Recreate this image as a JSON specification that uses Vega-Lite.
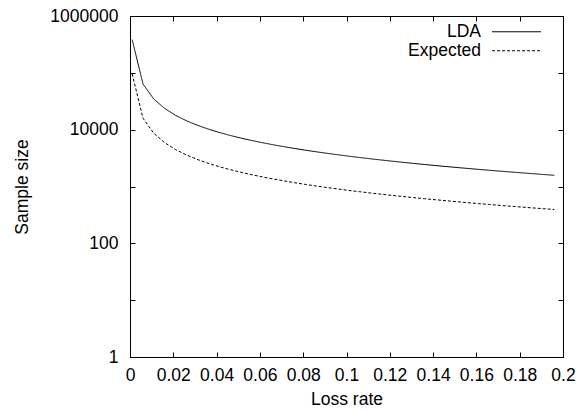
{
  "$schema": "https://vega.github.io/schema/vega-lite/v6.json",
  "width": 433,
  "height": 341,
  "autosize": {"type": "none"},
  "padding": {"left": 130, "top": 16, "right": 23, "bottom": 54},
  "background": "white",
  "config": {
    "font": "Liberation Sans",
    "view": {"stroke": "black", "strokeWidth": 1},
    "axis": {"grid": false, "domainColor": "black", "tickColor": "black", "labelColor": "black", "titleColor": "black", "labelFontSize": 17.5, "titleFontSize": 17.5, "titleFontWeight": "normal", "labelFlush": false, "labelOverlap": false}
  },
  "data": {"values": [
    {"p": 0.001, "series": "LDA", "n": 383616}, {"p": 0.001, "series": "Expected", "n": 95904},
    {"p": 0.006, "series": "LDA", "n": 63616}, {"p": 0.006, "series": "Expected", "n": 15904},
    {"p": 0.011, "series": "LDA", "n": 34525}, {"p": 0.011, "series": "Expected", "n": 8631},
    {"p": 0.016, "series": "LDA", "n": 23616}, {"p": 0.016, "series": "Expected", "n": 5904},
    {"p": 0.021, "series": "LDA", "n": 17902}, {"p": 0.021, "series": "Expected", "n": 4475},
    {"p": 0.026, "series": "LDA", "n": 14385}, {"p": 0.026, "series": "Expected", "n": 3596},
    {"p": 0.031, "series": "LDA", "n": 12003}, {"p": 0.031, "series": "Expected", "n": 3001},
    {"p": 0.036, "series": "LDA", "n": 10283}, {"p": 0.036, "series": "Expected", "n": 2571},
    {"p": 0.041, "series": "LDA", "n": 8982}, {"p": 0.041, "series": "Expected", "n": 2245},
    {"p": 0.046, "series": "LDA", "n": 7964}, {"p": 0.046, "series": "Expected", "n": 1991},
    {"p": 0.051, "series": "LDA", "n": 7145}, {"p": 0.051, "series": "Expected", "n": 1786},
    {"p": 0.056, "series": "LDA", "n": 6473}, {"p": 0.056, "series": "Expected", "n": 1618},
    {"p": 0.061, "series": "LDA", "n": 5911}, {"p": 0.061, "series": "Expected", "n": 1478},
    {"p": 0.066, "series": "LDA", "n": 5434}, {"p": 0.066, "series": "Expected", "n": 1359},
    {"p": 0.071, "series": "LDA", "n": 5025}, {"p": 0.071, "series": "Expected", "n": 1256},
    {"p": 0.076, "series": "LDA", "n": 4669}, {"p": 0.076, "series": "Expected", "n": 1167},
    {"p": 0.081, "series": "LDA", "n": 4357}, {"p": 0.081, "series": "Expected", "n": 1089},
    {"p": 0.086, "series": "LDA", "n": 4081}, {"p": 0.086, "series": "Expected", "n": 1020},
    {"p": 0.091, "series": "LDA", "n": 3836}, {"p": 0.091, "series": "Expected", "n": 959},
    {"p": 0.096, "series": "LDA", "n": 3616}, {"p": 0.096, "series": "Expected", "n": 904},
    {"p": 0.101, "series": "LDA", "n": 3418}, {"p": 0.101, "series": "Expected", "n": 854},
    {"p": 0.106, "series": "LDA", "n": 3239}, {"p": 0.106, "series": "Expected", "n": 810},
    {"p": 0.111, "series": "LDA", "n": 3075}, {"p": 0.111, "series": "Expected", "n": 769},
    {"p": 0.116, "series": "LDA", "n": 2926}, {"p": 0.116, "series": "Expected", "n": 732},
    {"p": 0.121, "series": "LDA", "n": 2790}, {"p": 0.121, "series": "Expected", "n": 697},
    {"p": 0.126, "series": "LDA", "n": 2664}, {"p": 0.126, "series": "Expected", "n": 666},
    {"p": 0.131, "series": "LDA", "n": 2547}, {"p": 0.131, "series": "Expected", "n": 637},
    {"p": 0.136, "series": "LDA", "n": 2440}, {"p": 0.136, "series": "Expected", "n": 610},
    {"p": 0.141, "series": "LDA", "n": 2339}, {"p": 0.141, "series": "Expected", "n": 585},
    {"p": 0.146, "series": "LDA", "n": 2246}, {"p": 0.146, "series": "Expected", "n": 562},
    {"p": 0.151, "series": "LDA", "n": 2159}, {"p": 0.151, "series": "Expected", "n": 540},
    {"p": 0.156, "series": "LDA", "n": 2078}, {"p": 0.156, "series": "Expected", "n": 519},
    {"p": 0.161, "series": "LDA", "n": 2001}, {"p": 0.161, "series": "Expected", "n": 500},
    {"p": 0.166, "series": "LDA", "n": 1929}, {"p": 0.166, "series": "Expected", "n": 482},
    {"p": 0.171, "series": "LDA", "n": 1862}, {"p": 0.171, "series": "Expected", "n": 465},
    {"p": 0.176, "series": "LDA", "n": 1798}, {"p": 0.176, "series": "Expected", "n": 449},
    {"p": 0.181, "series": "LDA", "n": 1738}, {"p": 0.181, "series": "Expected", "n": 434},
    {"p": 0.186, "series": "LDA", "n": 1681}, {"p": 0.186, "series": "Expected", "n": 420},
    {"p": 0.191, "series": "LDA", "n": 1626}, {"p": 0.191, "series": "Expected", "n": 407},
    {"p": 0.196, "series": "LDA", "n": 1575}, {"p": 0.196, "series": "Expected", "n": 394}
  ]},
  "layer": [
    {
      "mark": {"type": "line", "strokeWidth": 1, "color": "black"},
      "encoding": {
        "x": {"field": "p", "type": "quantitative", "scale": {"domain": [0, 0.2], "nice": false, "zero": false},
          "axis": {"orient": "bottom", "values": [0, 0.02, 0.04, 0.06, 0.08, 0.1, 0.12, 0.14, 0.16, 0.18, 0.2], "format": ".2~f", "tickSize": -5, "labelPadding": 14, "title": "Loss rate", "titleY": 47, "titleBaseline": "alphabetic"}},
        "y": {"field": "n", "type": "quantitative", "scale": {"type": "log", "domain": [1, 1000000], "nice": false},
          "axis": {"orient": "left", "values": [1, 10, 100, 1000, 10000, 100000, 1000000],
            "labelExpr": "(datum.value == 1 || datum.value == 100 || datum.value == 10000 || datum.value == 1000000) ? format(datum.value, 'd') : ''",
            "tickSize": -5, "labelPadding": 17, "title": "Sample size", "titleX": -108, "titleY": 170.5, "titleAngle": -90, "titleBaseline": "middle", "titleAlign": "center"}},
        "strokeDash": {"field": "series", "type": "nominal",
          "scale": {"domain": ["LDA", "Expected"], "range": [[1, 0], [3, 2]]},
          "legend": {"orient": "none", "legendX": 377.8, "legendY": 7, "title": null, "symbolType": "M-5,0H5", "symbolSize": 96, "symbolStrokeWidth": 1, "symbolStrokeColor": "black", "symbolFillColor": "transparent", "labelAlign": "right", "labelOffset": -44.3, "labelFontSize": 17.5, "labelColor": "black", "padding": 0, "rowPadding": 0, "labelLimit": 0}}
      }
    },
    {
      "mark": {"type": "line", "opacity": 0, "strokeWidth": 0},
      "encoding": {
        "x": {"field": "p", "type": "quantitative",
          "axis": {"orient": "top", "values": [0, 0.02, 0.04, 0.06, 0.08, 0.1, 0.12, 0.14, 0.16, 0.18, 0.2], "tickSize": -5, "labels": false, "title": null}},
        "y": {"field": "n", "type": "quantitative",
          "axis": {"orient": "right", "values": [1, 10, 100, 1000, 10000, 100000, 1000000], "tickSize": -5, "labels": false, "title": null}},
        "detail": {"field": "series"}
      }
    }
  ],
  "resolve": {"axis": {"x": "independent", "y": "independent"}}
}
